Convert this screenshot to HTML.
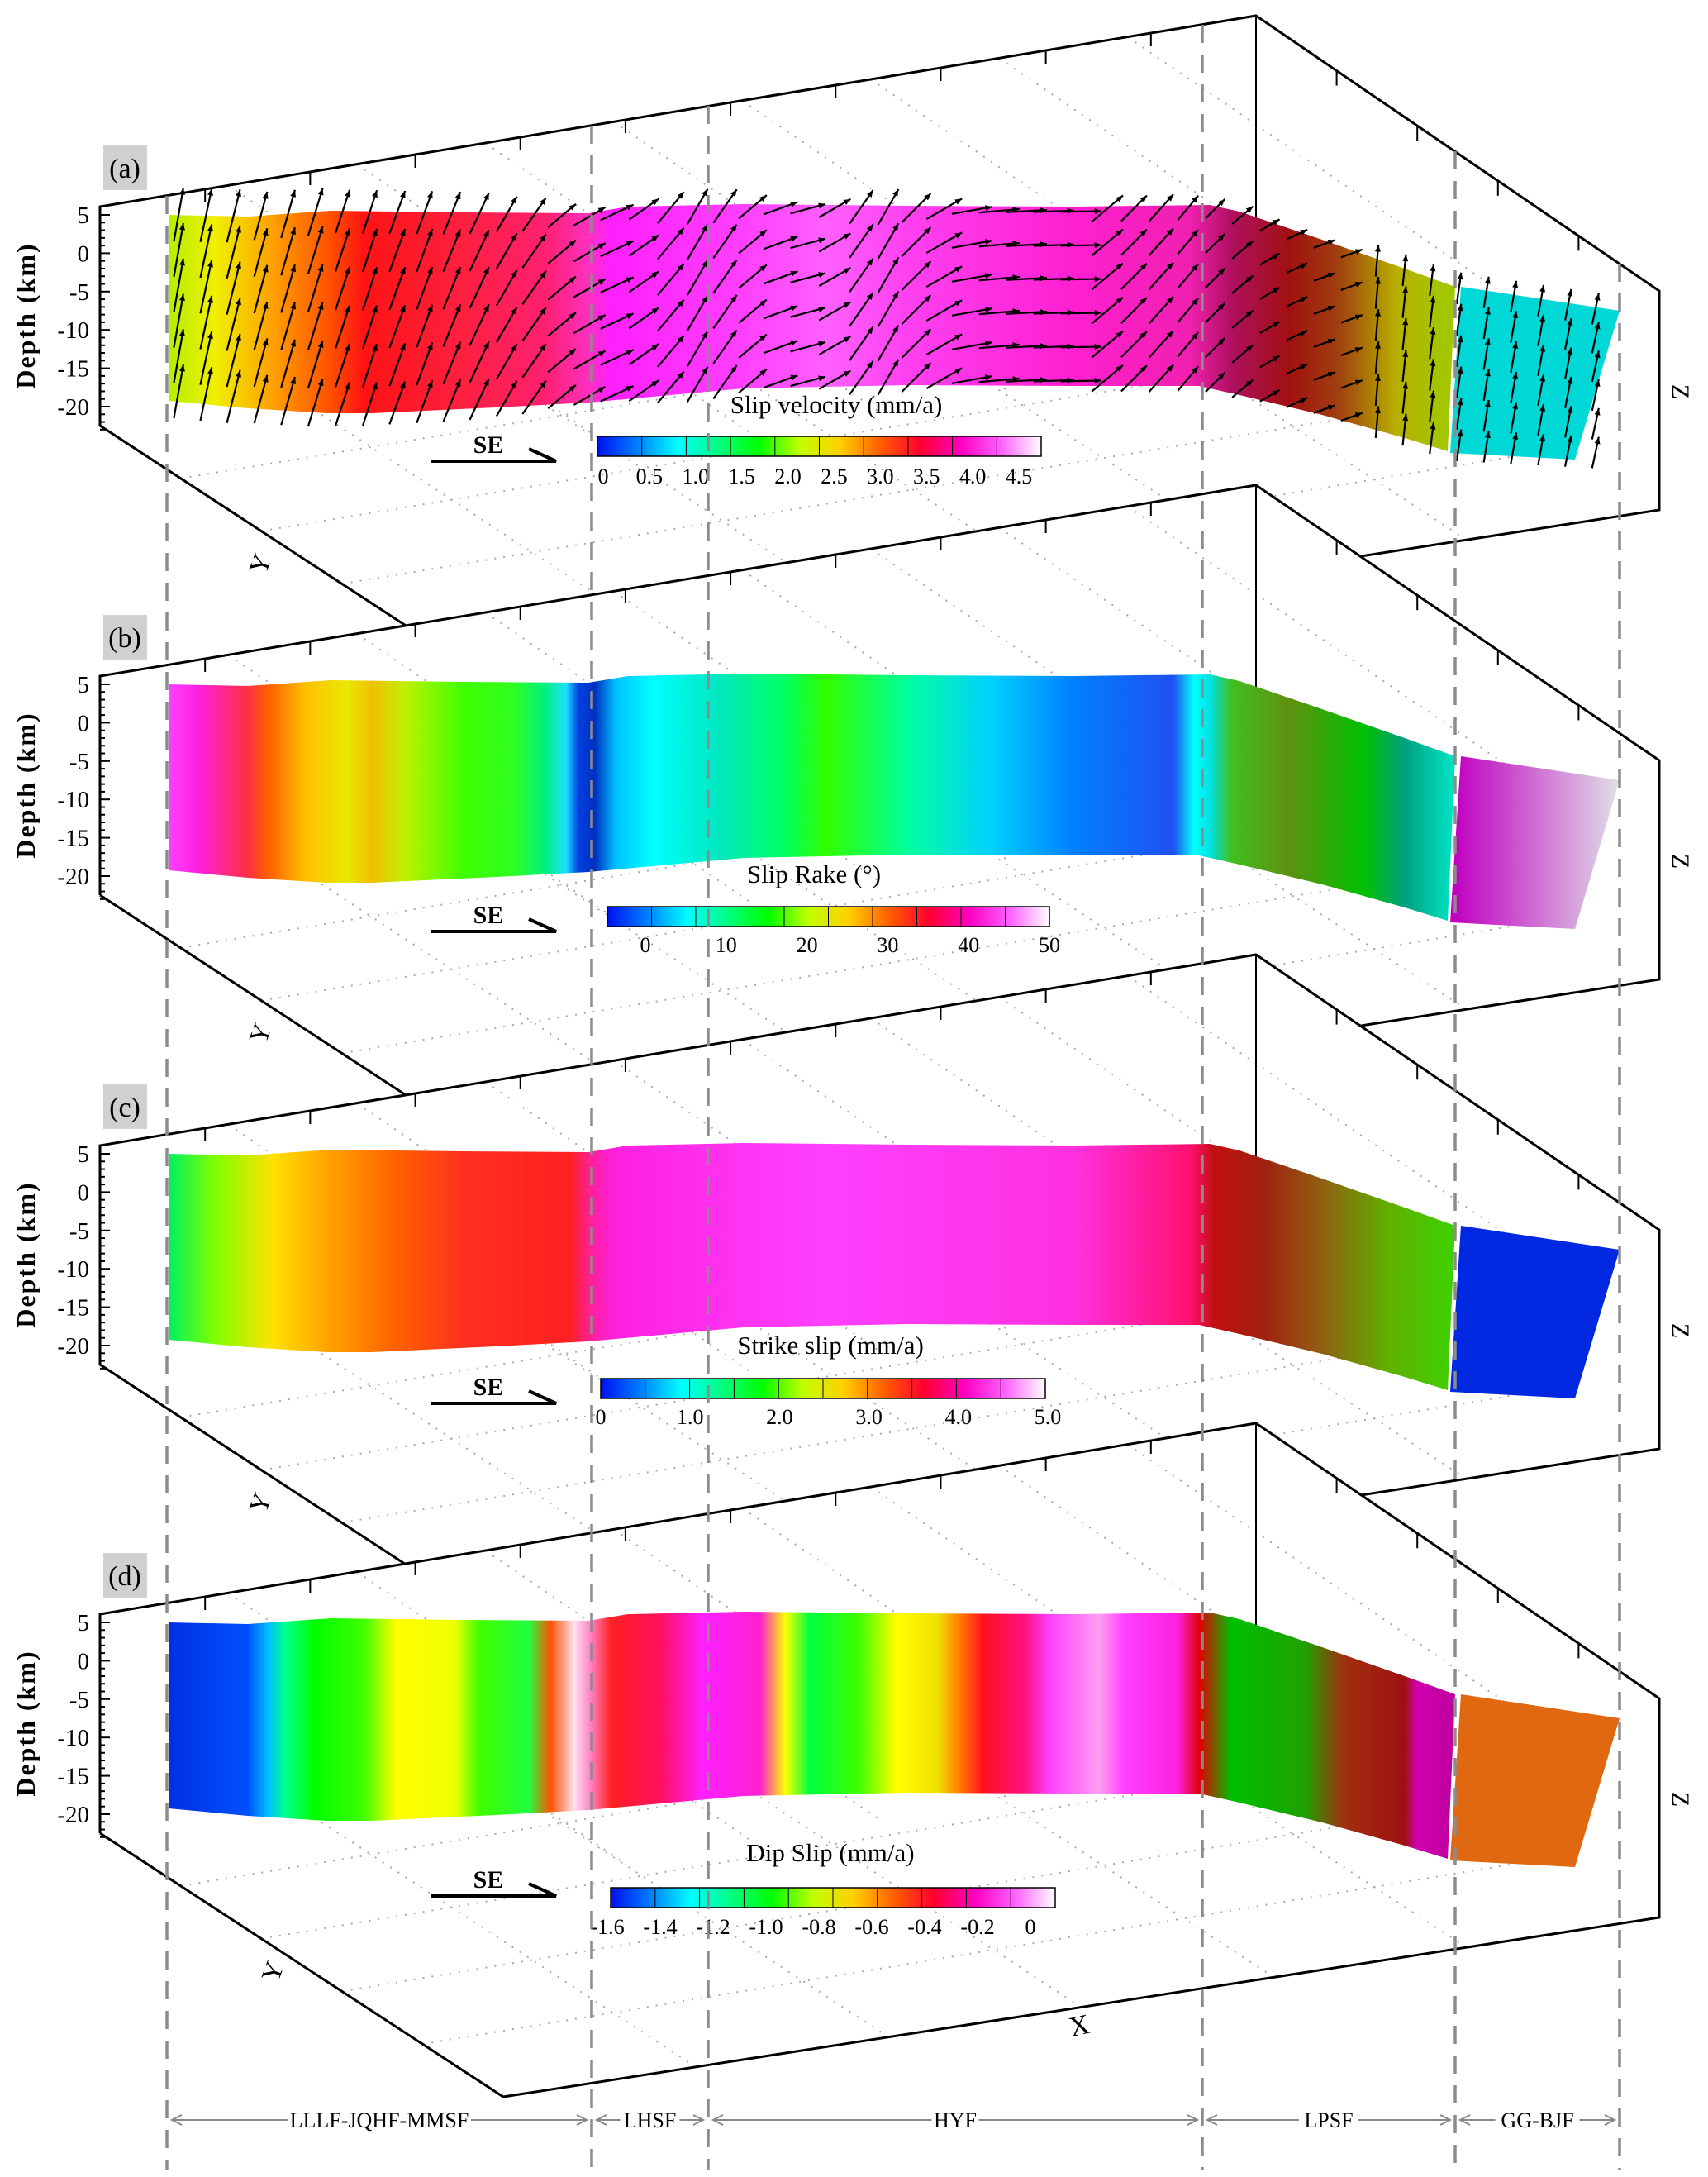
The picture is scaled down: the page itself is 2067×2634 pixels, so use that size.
<!DOCTYPE html>
<html><head><meta charset="utf-8"><style>
html,body{margin:0;padding:0;background:#fff}
svg{display:block;font-family:"Liberation Serif",serif}
</style></head><body>
<svg id="fig" xmlns="http://www.w3.org/2000/svg" width="2067" height="2634" viewBox="0 0 2067 2634">
<defs id="defs"></defs>
<g id="root"></g>
</svg>
<script>
// ---------- data ----------
const panelLetters = ["(a)","(b)","(c)","(d)"];
const panelTitles = ["Slip velocity (mm/a)","Slip Rake (°)","Strike slip (mm/a)","Dip Slip (mm/a)"];
const cbTicksA = ["0","0.5","1.0","1.5","2.0","2.5","3.0","3.5","4.0","4.5"];
const cbTicksB = ["0","10","20","30","40","50"];
const cbTicksC = ["0","1.0","2.0","3.0","4.0","5.0"];
const cbTicksD = ["-1.6","-1.4","-1.2","-1.0","-0.8","-0.6","-0.4","-0.2","0"];
const depthTicks = [5,0,-5,-10,-15,-20];
const faultNames = ["LLLF-JQHF-MMSF","LHSF","HYF","LPSF","GG-BJF"];
// slip arrows (panel a): rake angle (deg) and relative speed per sample along strike
const arrowRake = [80,78,76,75,74,73,72,72,70,70,68,65,60,55,40,30,25,35,50,60,55,40,20,15,30,55,60,45,30,10,5,3,2,1,40,45,48,50,45,40,30,25,20,20,85,84,83,82,81,80,80,79,78];
const arrowSpeed = [1.2,1.2,1.2,1.1,1.1,1.1,1.0,1.0,1.0,1.0,1.0,1.0,0.9,0.9,0.8,0.8,0.8,0.8,0.9,0.9,0.9,0.8,0.8,0.8,0.8,0.9,0.9,0.9,0.9,0.9,0.9,0.9,0.9,0.9,0.9,0.8,0.8,0.7,0.6,0.6,0.5,0.5,0.5,0.5,0.7,0.7,0.7,0.7,0.7,0.7,0.7,0.7,0.7];

// ---------- helpers ----------
const NS="http://www.w3.org/2000/svg";
const root=document.getElementById('root');
const defs=document.getElementById('defs');
function mk(tag,attrs,parent){const e=document.createElementNS(NS,tag);for(const k in attrs)e.setAttribute(k,attrs[k]);(parent||root).appendChild(e);return e;}

const topPts=[[204,260],[300,262],[400,255],[560,257],[712,258],[760,250],[900,247],[1100,249],[1300,250],[1464,248],[1500,256],[1600,290],[1700,325],[1761,347]];
const botPts=[[1752,546],[1700,530],[1600,502],[1500,478],[1451,467],[1300,467],[1100,466],[900,470],[712,487],[600,493],[450,500],[396,500],[300,494],[204,485]];
const ggPts=[[1768,347],[1960,376],[1906,556],[1755,548]];
function interp(pts,x){const p=pts.slice().sort((a,b)=>a[0]-b[0]);if(x<=p[0][0])return p[0][1];for(let i=1;i<p.length;i++){if(x<=p[i][0]){const t=(x-p[i-1][0])/(p[i][0]-p[i-1][0]);return p[i-1][1]+t*(p[i][1]-p[i-1][1]);}}return p[p.length-1][1];}

const grads=[
 [[204,"#b8ee00"],[260,"#f0f000"],[330,"#ffa000"],[400,"#ff5000"],[440,"#ff1414"],[560,"#ff2040"],[660,"#ff2070"],[712,"#ff30c0"],[740,"#ff20ff"],[900,"#ff40ff"],[1000,"#ff60ff"],[1100,"#ff40f0"],[1300,"#ff20d0"],[1440,"#f020b0"],[1490,"#b01060"],[1560,"#a01010"],[1620,"#a04010"],[1690,"#b8b000"],[1755,"#a0c800"]],
 [[204,"#ff40ff"],[240,"#ff20e0"],[300,"#ff3040"],[325,"#ff6000"],[370,"#ffc000"],[420,"#e8e800"],[450,"#f0c000"],[490,"#c0f000"],[560,"#40ff00"],[620,"#30ff20"],[660,"#00f080"],[685,"#20e0ff"],[700,"#0040e0"],[720,"#0030c0"],[745,"#00c0ff"],[790,"#00ffff"],[870,"#00e8c0"],[950,"#00ff60"],[1000,"#30ff00"],[1100,"#00ffa0"],[1200,"#00d0ff"],[1300,"#0080ff"],[1420,"#2050f0"],[1445,"#00ffff"],[1465,"#00e0e0"],[1490,"#40c020"],[1560,"#609010"],[1650,"#00c000"],[1700,"#00a080"],[1755,"#00e0c0"]],
 [[204,"#00f060"],[260,"#80ff00"],[330,"#ffe000"],[400,"#ffa000"],[480,"#ff6000"],[560,"#ff3020"],[690,"#ff2020"],[716,"#ff20a0"],[745,"#ff20e0"],[1000,"#ff40ff"],[1300,"#ff30e0"],[1440,"#ff1070"],[1470,"#c01010"],[1530,"#a02010"],[1600,"#906010"],[1680,"#60b000"],[1755,"#40d000"]],
 [[204,"#0030e0"],[300,"#0050ff"],[325,"#00c0ff"],[345,"#00ff90"],[380,"#00ff00"],[440,"#40ff00"],[480,"#ffff00"],[550,"#f0ff00"],[580,"#40ff00"],[640,"#20ff40"],[666,"#ff5000"],[695,"#ffe0f0"],[715,"#ff80c0"],[740,"#ff2020"],[800,"#ff1060"],[850,"#ff20ff"],[920,"#ff20d0"],[950,"#ffff00"],[980,"#00ff40"],[1040,"#40ff00"],[1085,"#ffff00"],[1135,"#f0e000"],[1160,"#ff8000"],[1190,"#ff1020"],[1240,"#ff1080"],[1270,"#ff40ff"],[1330,"#ffa0f0"],[1360,"#ff40ff"],[1425,"#ff20e0"],[1452,"#e00000"],[1490,"#00c000"],[1580,"#20a000"],[1625,"#a03010"],[1700,"#a01010"],[1715,"#d000b0"],[1752,"#c000a0"]]
];
const ggFill=[["#00d8d8","#00d8d8"],["#c000c0","#e0e0e8"],["#0028e0","#0028e0"],["#e06810","#e06810"]];

const cbDefs=[
 {x:723,y:528,w:537,h:24,ticks:cbTicksA,tx:[730,1233],ty:585,title:500,tcx:1012,seY:536},
 {x:735,y:1097,w:535,h:24,ticks:cbTicksB,tx:[781,1270],ty:1152,title:1068,tcx:985,seY:1105},
 {x:727,y:1668,w:538,h:24,ticks:cbTicksC,tx:[727,1268],ty:1723,title:1638,tcx:1005,seY:1676},
 {x:739,y:2284,w:538,h:24,ticks:cbTicksD,tx:[735,1247],ty:2340,title:2252,tcx:1005,seY:2272}
];
const cbStops=["#0010f0","#0080ff","#00ffff","#00ff80","#00ff00","#c0ff00","#ffd000","#ff6000","#ff0030","#ff00c0","#ff60ff","#ffffff"];

const dyArr=[0,568,1136,1703];

{const g=mk('linearGradient',{id:'cbg',x1:'0',x2:'1',y1:'0',y2:'0'},defs);cbStops.forEach((c,i)=>mk('stop',{offset:(i/(cbStops.length-1)),'stop-color':c},g));}

for(let k=0;k<4;k++){
 const dy=dyArr[k];
 const P=document.createElementNS(NS,'g');
 
 
 root.appendChild(P);
 const A=[121,250+dy],B=[1520,19+dy],C=[2008,352+dy],D=[2008,617+dy],E=[121,515+dy],F=[609,834+dy],Bb=[1520,284+dy];
 mk('polygon',{points:[A,B,C,D,F,E].map(p=>p.join(',')).join(' '),fill:'#fff',stroke:'none'},P);
 for(let i=1;i<=8;i++){const t=i/9;const x0=A[0]+(B[0]-A[0])*t,y0=A[1]+(B[1]-A[1])*t;
  mk('line',{x1:x0,y1:y0,x2:x0+(C[0]-B[0])*0.98,y2:y0+(C[1]-B[1])*0.98,stroke:'#aaa','stroke-width':2,'stroke-dasharray':'2 9'},P);}
 for(let i=1;i<=4;i++){const t=i/5;const x0=E[0]+(F[0]-E[0])*t,y0=E[1]+(F[1]-E[1])*t;
  mk('line',{x1:x0,y1:y0,x2:x0+(B[0]-A[0]),y2:y0+(B[1]-A[1]),stroke:'#aaa','stroke-width':2,'stroke-dasharray':'2 9'},P);}
 for(let i=1;i<=5;i++){const t=i/6;const x0=F[0]+(D[0]-F[0])*t,y0=F[1]+(D[1]-F[1])*t;
  mk('line',{x1:x0,y1:y0,x2:x0-(F[0]-E[0]),y2:y0-(F[1]-E[1]),stroke:'#aaa','stroke-width':2,'stroke-dasharray':'2 9'},P);}
 mk('line',{x1:B[0],y1:B[1],x2:Bb[0],y2:Bb[1],stroke:'#000','stroke-width':2},P);
 const box=mk('polyline',{points:[E,A,B,C,D,F,E].map(p=>p.join(',')).join(' '),fill:'none',stroke:'#000','stroke-width':3},P);
 
 
 for(let i=1;i<=10;i++){const t=i/11;const x0=A[0]+(B[0]-A[0])*t,y0=A[1]+(B[1]-A[1])*t;mk('line',{x1:x0,y1:y0,x2:x0,y2:y0+16,stroke:'#000','stroke-width':2},P);}
 for(let i=1;i<=4;i++){const t=i/5;const x0=B[0]+(C[0]-B[0])*t,y0=B[1]+(C[1]-B[1])*t;mk('line',{x1:x0,y1:y0,x2:x0,y2:y0+18,stroke:'#000','stroke-width':2},P);}
 const gid='sg'+k;
 const g=mk('linearGradient',{id:gid,gradientUnits:'userSpaceOnUse',x1:204,x2:1755,y1:0,y2:0},defs);
 grads[k].forEach(s=>mk('stop',{offset:((s[0]-204)/(1755-204)).toFixed(4),'stop-color':s[1]},g));
 const surf=mk('polygon',{points:topPts.concat(botPts).map(p=>p[0]+','+(p[1]+dy)).join(' '),fill:'url(#'+gid+')'},P);
 
 
 const gg2='gg'+k;
 const g2=mk('linearGradient',{id:gg2,gradientUnits:'userSpaceOnUse',x1:1760,x2:1960,y1:0,y2:0},defs);
 mk('stop',{offset:0,'stop-color':ggFill[k][0]},g2);mk('stop',{offset:1,'stop-color':ggFill[k][1]},g2);
 const ggs=mk('polygon',{points:ggPts.map(p=>p[0]+','+(p[1]+dy)).join(' '),fill:'url(#'+gg2+')'},P);
 
 
 const yD=d=>260+dy+(5-d)*9.28;
 for(let d=5;d>=-23;d--){const maj=(d%5===0);mk('line',{x1:121,y1:yD(d),x2:121+(maj?12:6),y2:yD(d),stroke:'#000','stroke-width':2},P);}
 depthTicks.forEach(d=>{const t=mk('text',{x:108,y:yD(d)+10,'text-anchor':'end','font-size':29},P);t.textContent=d;
  
  });
 const yl=mk('text',{x:0,y:0,transform:`translate(42,${382+dy}) rotate(-90)`,'text-anchor':'middle','font-size':32,'font-weight':'bold','letter-spacing':2},P);yl.textContent='Depth (km)';
 
 
 mk('rect',{x:125,y:176+dy,width:53,height:54,fill:'#d0d0d0'},P);
 const pl=mk('text',{x:151,y:215+dy,'text-anchor':'middle','font-size':34},P);pl.textContent=panelLetters[k];
 
 
 const zl=mk('text',{x:0,y:0,transform:`translate(2024,${474+dy}) rotate(90)`,'text-anchor':'middle','font-size':30},P);zl.textContent='Z';
 
 
 const cb=cbDefs[k];
 const cbr=mk('rect',{x:cb.x,y:cb.y,width:cb.w,height:cb.h,fill:'url(#cbg)',stroke:'#000','stroke-width':1.5},P);
 
 
 for(let i=1;i<10;i++){mk('line',{x1:cb.x+cb.w*i/10,y1:cb.y,x2:cb.x+cb.w*i/10,y2:cb.y+cb.h,stroke:'#000','stroke-width':1},P);}
 cb.ticks.forEach((lab,i)=>{const x=cb.tx[0]+(cb.tx[1]-cb.tx[0])*i/(cb.ticks.length-1);
  const t=mk('text',{x:x,y:cb.ty,'text-anchor':'middle','font-size':26},P);t.textContent=lab;
  
  });
 const ct=mk('text',{x:cb.tcx,y:cb.title,'text-anchor':'middle','font-size':31},P);ct.textContent=panelTitles[k];
 
 
 const se=mk('text',{x:591,y:cb.seY+12,'text-anchor':'middle','font-size':30,'font-weight':'bold'},P);se.textContent='SE';
 
 
 mk('polyline',{points:`521,${cb.seY+22} 673,${cb.seY+22} 640,${cb.seY+7}`,fill:'none',stroke:'#000','stroke-width':4},P);
 const ylab=mk('text',{x:0,y:0,transform:`translate(${325+(k==3?15:0)},${686+dy}) rotate(-70)`,'text-anchor':'middle','font-size':32},P);ylab.textContent='Y';
 
 
}

// slip arrows on panel a
{const G=document.createElementNS(NS,'g');root.appendChild(G);
 const n=arrowRake.length;
 for(let i=0;i<n;i++){
  const x=215+(1930-215)*i/(n-1);
  let top,bot;
  if(x>1762){const t=(x-1768)/(1960-1768);top=347+29*t;bot=548+8*((x-1755)/(1906-1755));}
  else{top=interp(topPts,x);bot=interp(botPts,x);}
  const rows=6;
  for(let r=0;r<rows;r++){
   const y=top+6+(bot-top-12)*r/(rows-1);
   const L=55*arrowSpeed[i];const a=arrowRake[i]*Math.PI/180;
   const x1=x-L*0.4*Math.cos(a),y1=y+L*0.4*Math.sin(a);
   const x2=x+L*0.6*Math.cos(a),y2=y-L*0.6*Math.sin(a);
   mk('line',{x1:x1,y1:y1,x2:x2,y2:y2,stroke:'#000','stroke-width':2.2},G);
   const h=9,ang=Math.atan2(y2-y1,x2-x1);
   mk('polygon',{points:`${x2},${y2} ${x2-h*Math.cos(ang-0.4)},${y2-h*Math.sin(ang-0.4)} ${x2-h*Math.cos(ang+0.4)},${y2-h*Math.sin(ang+0.4)}`,fill:'#000'},G);
  }
 }
}

const dashX=[202,716,857,1455,1761,1960];
const dashTop=[237,152,128,30,183,319];
dashX.forEach((x,i)=>{const l=mk('line',{x1:x,y1:dashTop[i],x2:x,y2:2625,stroke:'#8c8c8c','stroke-width':3.5,'stroke-dasharray':'22 14'});
 
 });

faultNames.forEach((nm,i)=>{const x0=dashX[i]+6,x1=dashX[i+1]-6,cx=(x0+x1)/2,y=2565;
 const g=document.createElementNS(NS,'g');root.appendChild(g);
 
 
 mk('line',{x1:x0,y1:y,x2:x1,y2:y,stroke:'#888','stroke-width':2},g);
 mk('polyline',{points:`${x0+12},${y-6} ${x0},${y} ${x0+12},${y+6}`,fill:'none',stroke:'#888','stroke-width':2},g);
 mk('polyline',{points:`${x1-12},${y-6} ${x1},${y} ${x1-12},${y+6}`,fill:'none',stroke:'#888','stroke-width':2},g);
 const w=nm.length*15+12;
 mk('rect',{x:cx-w/2,y:y-16,width:w,height:32,fill:'#fff'},g);
 const t=mk('text',{x:cx,y:y+9,'text-anchor':'middle','font-size':26},g);t.textContent=nm;});

const xl=mk('text',{x:1306,y:2462,'text-anchor':'middle','font-size':34,transform:'rotate(-12 1306 2450)'});xl.textContent='X';


</script>
</body></html>
